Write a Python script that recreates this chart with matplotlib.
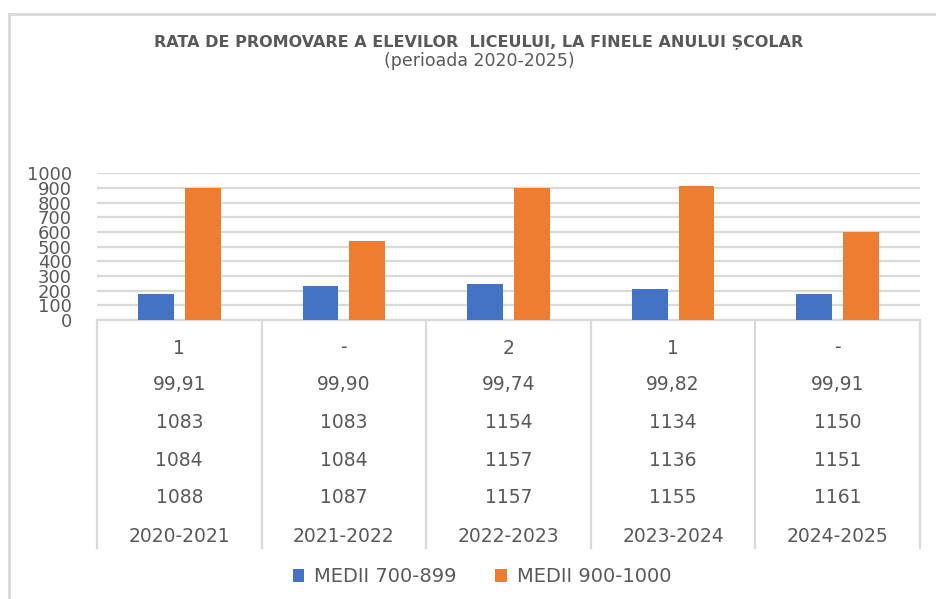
import matplotlib.pyplot as plt
import matplotlib.transforms as mtransforms
from matplotlib.lines import Line2D
import numpy as np

categories = ['2020-2021', '2021-2022', '2022-2023', '2023-2024', '2024-2025']
medii_700_899 = [175, 232, 248, 211, 175]
medii_900_1000 = [900, 539, 900, 913, 602]

# table rows shown under the chart (top to bottom)
row1 = ['1', '-', '2', '1', '-']
row2 = ['99,91', '99,90', '99,74', '99,82', '99,91']
row3 = ['1083', '1083', '1154', '1134', '1150']
row4 = ['1084', '1084', '1157', '1136', '1151']
row5 = ['1088', '1087', '1157', '1155', '1161']

W, H = 937, 599
grey = '#595959'
line_grey = '#d9d9d9'
blue = '#4472c4'
orange = '#ed7d31'

fig = plt.figure(figsize=(W / 100, H / 100), dpi=100)
ax = fig.add_axes([97 / W, 1 - 320 / H, (920 - 97) / W, (320 - 173.3) / H])

x = np.arange(len(categories))
bw = 0.218
off = 0.142
ax.bar(x - off, medii_700_899, bw, color=blue, label='MEDII 700-899', zorder=3)
ax.bar(x + off, medii_900_1000, bw, color=orange, label='MEDII 900-1000', zorder=3)

ax.set_xlim(-0.5, len(categories) - 0.5)
ax.set_ylim(0, 1000)
ax.set_yticks(range(0, 1001, 100))
ax.tick_params(axis='y', length=0, labelsize=13, labelcolor=grey, pad=18)
ax.set_xticks([])
ax.grid(axis='y', color=line_grey, linewidth=1.6, zorder=0)
for s in ['top', 'right', 'left']:
    ax.spines[s].set_visible(False)
ax.spines['bottom'].set_color(line_grey)
ax.spines['bottom'].set_linewidth(1.6)

# data table below the axis
trans = mtransforms.blended_transform_factory(ax.transData, fig.transFigure)
rows = [row1, row2, row3, row4, row5, categories]
row_y = [348, 384, 422.5, 460, 497.5, 536]
for vals, py in zip(rows, row_y):
    for i, v in enumerate(vals):
        ax.text(i, 1 - py / H, v, transform=trans, ha='center', va='center',
                fontsize=13.5, color=grey, clip_on=False)
for b in np.arange(len(categories) + 1) - 0.5:
    ax.add_line(Line2D([b, b], [1 - 321 / H, 1 - 548 / H], transform=trans,
                       color=line_grey, linewidth=1.6, clip_on=False))

# chart frame (left and top edges visible)
fig.add_artist(Line2D([9.5 / W, 9.5 / W], [0, 1 - 14 / H], color=line_grey, linewidth=2))
fig.add_artist(Line2D([9.5 / W, 1], [1 - 14 / H, 1 - 14 / H], color=line_grey, linewidth=2))

fig.text(479 / W, 1 - 42 / H, 'RATA DE PROMOVARE A ELEVILOR  LICEULUI, LA FINELE ANULUI ȘCOLAR',
         ha='center', va='center', fontsize=11.5, fontweight='bold', color=grey)
fig.text(479 / W, 1 - 61 / H, '(perioada 2020-2025)', ha='center', va='center',
         fontsize=12.5, color=grey)

fig.legend(loc='center', bbox_to_anchor=(482 / W, 1 - 577 / H), ncol=2, frameon=False,
           fontsize=14, labelcolor=grey, handlelength=0.6, handleheight=0.6,
           handletextpad=0.5, columnspacing=2.0)

fig.savefig('out.png', dpi=100)
